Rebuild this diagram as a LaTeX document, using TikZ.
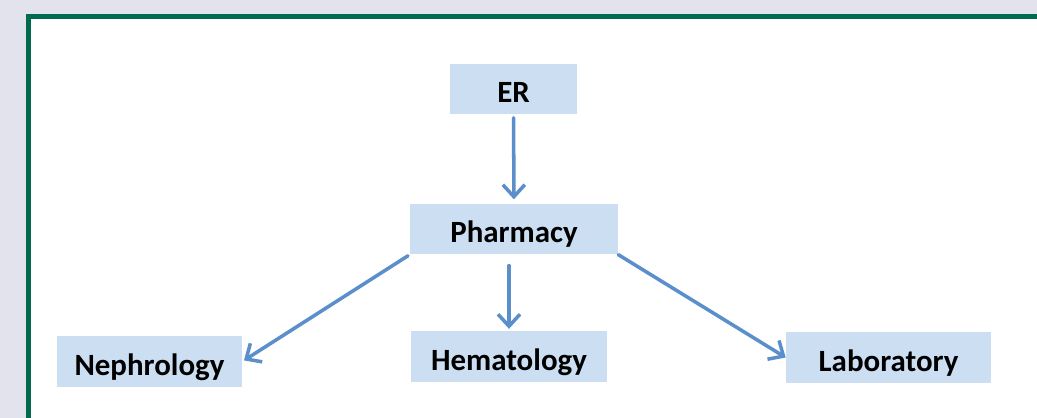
\documentclass[tikz,border=0pt]{standalone}
\usepackage{fontspec}
\setsansfont{Carlito}
\usepackage{tikz}
\usetikzlibrary{positioning,arrows.meta,calc}
\usepackage{xcolor}
\definecolor{pagebg}{RGB}{227,227,238}
\definecolor{framegreen}{RGB}{0,106,78}
\definecolor{boxblue}{RGB}{204,223,242}
\definecolor{linkblue}{RGB}{91,143,203}

\begin{document}
\begin{tikzpicture}[x=0.025cm,y=-0.025cm,
  font=\sffamily\bfseries\fontsize{22}{26}\selectfont,
  dept/.style={fill=boxblue,inner sep=0pt,minimum height=1.27cm,
    text height=0.68cm,text depth=0pt},
  link/.style={line width=2.5pt,linkblue,line cap=round,
    -{Straight Barb[length=3mm,width=5.5mm,line width=2.5pt]}}]
% Page and frame
\useasboundingbox (0,0) rectangle (1037,418);
\fill[pagebg] (0,0) rectangle (1037,418);
\clip (0,0) rectangle (1037,418);
\draw[framegreen,fill=white,line width=0.14cm] (28.5,16.5) rectangle (1060,440);
% Departments
\node[dept,minimum width=3.175cm] (er) at (513.5,89) {ER};
\node[dept,minimum width=5.2cm] (pharmacy) at (514,229) {Pharmacy};
\node[dept,minimum width=4.625cm] (nephrology) at (149.5,361.5) {Nephrology};
\node[dept,minimum width=4.9cm] (hematology) at (509,356.5) {Hematology};
\node[dept,minimum width=5.125cm] (laboratory) at (888.5,357.5) {Laboratory};
% Arrows
\draw[link,shorten <=0.075cm,shorten >=0.1cm] (er) -- (pharmacy);
\draw[link,shorten <=0.05cm,shorten >=0.05cm] (pharmacy.south west) -- (nephrology.east);
\draw[link,shorten <=0.275cm,shorten >=0.05cm] (pharmacy.south -| hematology.north) -- (hematology.north);
\draw[link] (pharmacy.south east) -- (laboratory.west);
\end{tikzpicture}
\end{document}
